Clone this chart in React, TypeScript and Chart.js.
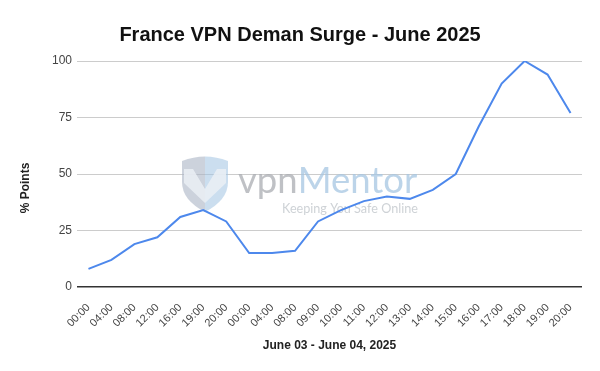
import React, { useEffect, useRef } from "react";
import { Chart, registerables } from "chart.js";

Chart.register(...registerables);

const titleText = "France VPN Deman Surge - June 2025";
const xAxisTitle = "June 03 - June 04, 2025";
const yAxisTitle = "% Points";
const timeLabels = [
  "00:00", "04:00", "08:00", "12:00", "16:00", "19:00", "20:00",
  "00:00", "04:00", "08:00", "09:00", "10:00", "11:00", "12:00",
  "13:00", "14:00", "15:00", "16:00", "17:00", "18:00", "19:00", "20:00",
];
const surgeValues = [8, 12, 19, 22, 31, 34, 29, 15, 15, 16, 29, 34, 38, 40, 39, 43, 50, 71, 90, 100, 94, 77];
const yTicks = [0, 25, 50, 75, 100];

const FONT = "'Liberation Sans', Arial, sans-serif";

const textPlugin = {
  id: "texts",
  beforeDatasetsDraw(chart: any) {
    const ctx = chart.ctx as CanvasRenderingContext2D;
    ctx.save();
    // shield
    const sx = 182, sy = 155, sw = 46, sh = 57;
    const cx = sx + sw / 2;
    const shield = new Path2D();
    shield.moveTo(sx, sy + 6);
    shield.quadraticCurveTo(cx, sy - 3, sx + sw, sy + 6);
    shield.lineTo(sx + sw, sy + 27);
    shield.quadraticCurveTo(sx + sw, sy + 45, cx, sy + sh);
    shield.quadraticCurveTo(sx, sy + 45, sx, sy + 27);
    shield.closePath();
    ctx.save();
    ctx.clip(shield);
    ctx.fillStyle = "rgba(170,180,196,0.6)";
    ctx.fillRect(sx, sy - 5, sw / 2, sh + 10);
    ctx.fillStyle = "rgba(160,195,225,0.55)";
    ctx.fillRect(cx, sy - 5, sw / 2, sh + 10);
    ctx.fillStyle = "rgba(235,240,246,0.85)";
    ctx.beginPath();
    ctx.moveTo(sx + 2, sy + 14);
    ctx.lineTo(sx + 11, sy + 14);
    ctx.lineTo(cx, sy + 34);
    ctx.lineTo(sx + sw - 11, sy + 14);
    ctx.lineTo(sx + sw - 2, sy + 14);
    ctx.lineTo(sx + sw - 2, sy + 28);
    ctx.lineTo(cx, sy + 48);
    ctx.lineTo(sx + 2, sy + 28);
    ctx.closePath();
    ctx.fill();
    ctx.restore();

    // brand text
    const brandFont = (s: number) => `400 ${s}px Lato, 'Open Sans', sans-serif`;
    let size = 34;
    ctx.font = brandFont(size);
    const w = ctx.measureText("vpnMentor").width;
    size = size * (179 / w);
    ctx.font = brandFont(size);
    ctx.textBaseline = "alphabetic";
    ctx.textAlign = "left";
    ctx.fillStyle = "rgba(170,172,178,0.75)";
    ctx.fillText("vpn", 238, 193);
    const vw = ctx.measureText("vpn").width;
    ctx.fillStyle = "rgba(165,198,226,0.75)";
    ctx.fillText("Mentor", 238 + vw, 193);

    let s2 = 13;
    ctx.font = brandFont(s2);
    const w2 = ctx.measureText("Keeping You Safe Online").width;
    s2 = s2 * (136 / w2);
    ctx.font = brandFont(s2);
    ctx.fillStyle = "rgba(190,195,200,0.75)";
    ctx.fillText("Keeping You Safe Online", 282, 213);
    ctx.restore();
  },
  afterDraw(chart: any) {
    const ctx = chart.ctx as CanvasRenderingContext2D;
    const area = chart.chartArea;
    ctx.save();
    ctx.fillStyle = "#111";
    ctx.textAlign = "center";
    ctx.textBaseline = "middle";
    ctx.font = `bold 20px ${FONT}`;
    ctx.fillText(titleText, 300, 35);
    ctx.font = `bold 12px ${FONT}`;
    ctx.fillStyle = "#222";
    ctx.fillText(xAxisTitle, (area.left + area.right) / 2, 346);
    ctx.translate(26, 188);
    ctx.rotate(-Math.PI / 2);
    ctx.fillText(yAxisTitle, 0, 0);
    ctx.restore();
  },
};

export default function App() {
  const ref = useRef<HTMLCanvasElement>(null);
  useEffect(() => {
    document.body.style.margin = "0";
    const chart = new Chart(ref.current!, {
      type: "line",
      data: {
        labels: timeLabels,
        datasets: [
          {
            data: surgeValues,
            borderColor: "#4d88ec",
            borderWidth: 2,
            pointRadius: 0,
            tension: 0,
            fill: false,
          },
        ],
      },
      options: {
        animation: false,
        responsive: false,
        layout: { padding: { top: 61, right: 18, left: 0, bottom: 0 } },
        plugins: { legend: { display: false }, title: { display: false }, tooltip: { enabled: false } },
        scales: {
          x: {
            offset: true,
            grid: { display: false },
            border: { display: false },
            ticks: {
              color: "#444",
              font: { family: FONT, size: 11 },
              minRotation: 45,
              maxRotation: 45,
              autoSkip: false,
              padding: 6,
            },
            afterFit(scale: any) {
              scale.height = 84;
            },
          },
          y: {
            min: 0,
            max: 100,
            afterBuildTicks(scale: any) {
              scale.ticks = yTicks.map((v) => ({ value: v }));
            },
            grid: {
              drawTicks: false,
              color: (c: any) => (c.tick && c.tick.value === 0 ? "#333" : "#ccc"),
              lineWidth: (c: any) => (c.tick && c.tick.value === 0 ? 1.5 : 1),
            },
            border: { display: false },
            ticks: {
              color: "#444",
              font: { family: FONT, size: 12 },
              padding: 5,
            },
            afterFit(scale: any) {
              scale.width = 77;
            },
          },
        },
      },
      plugins: [textPlugin],
    });
    return () => chart.destroy();
  }, []);
  return <canvas ref={ref} width={600} height={371} style={{ display: "block" }} />;
}
